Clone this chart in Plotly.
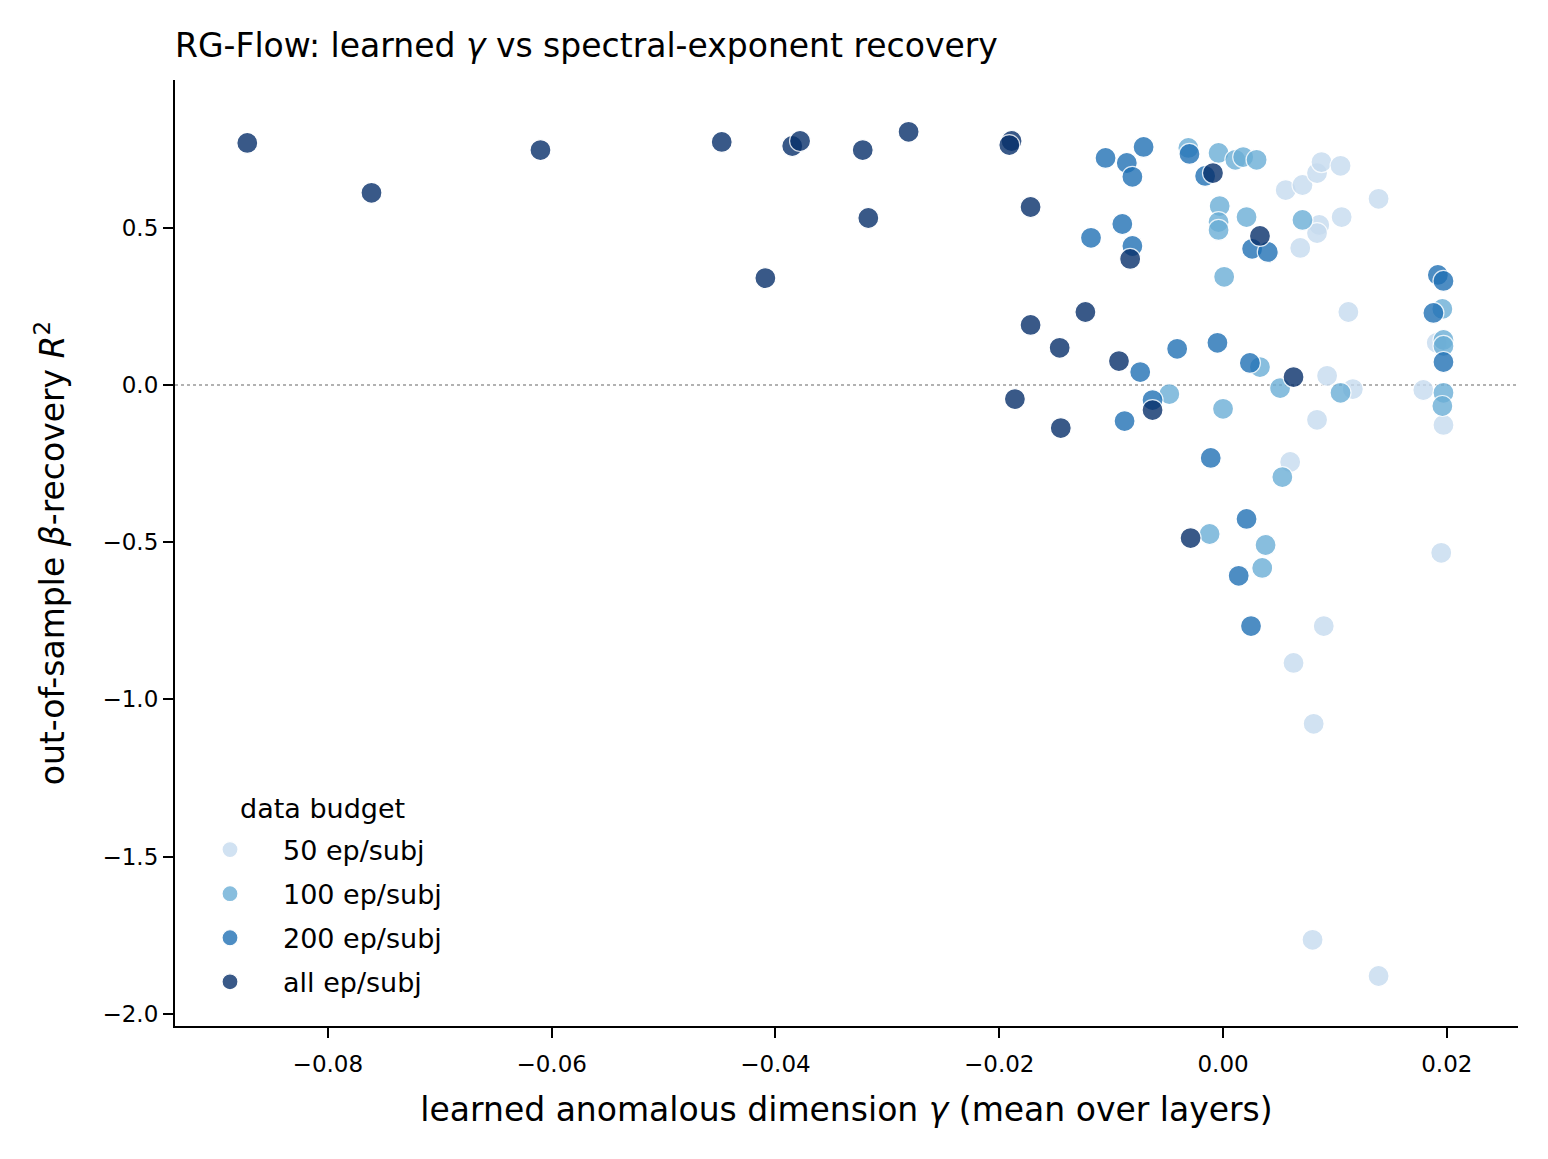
import plotly.graph_objects as go

# ---- data ----
budgets = ["50 ep/subj", "100 ep/subj", "200 ep/subj", "all ep/subj"]
colors = ["#c6dbef", "#6baed6", "#2171b5", "#08306b"]

gamma_50 = [0.0179, 0.0197, 0.0195, 0.0084, 0.0090, 0.0063, 0.0060, 0.0093, 0.0116,
            0.0086, 0.0084, 0.0069, 0.0106, 0.0139, 0.0056, 0.0071, 0.0084, 0.0088,
            0.0105, 0.0112, 0.0081, 0.0080, 0.0139, 0.0191]
r2_50 = [-0.016, -0.127, -0.534, -0.111, -0.767, -0.884, -0.245, 0.029, -0.013,
         0.509, 0.483, 0.436, 0.534, 0.592, 0.620, 0.636, 0.674, 0.709,
         0.697, 0.232, -1.078, -1.765, -1.880, 0.134]

gamma_100 = [-0.0031, -0.0004, 0.0011, 0.0018, 0.0030, -0.0003, -0.0004, -0.0004, 0.0021,
             0.0001, 0.0071, 0.0196, 0.0197, 0.0197, 0.0197, 0.0196, 0.0033, -0.0048,
             0.0000, 0.0051, 0.0053, -0.0012, 0.0038, 0.0035, 0.0105]
r2_100 = [0.754, 0.738, 0.716, 0.725, 0.716, 0.569, 0.518, 0.493, 0.534,
          0.344, 0.525, 0.242, 0.143, 0.124, -0.025, -0.067, 0.057, -0.029,
          -0.076, -0.010, -0.293, -0.474, -0.509, -0.582, -0.025]

gamma_200 = [-0.0105, -0.0086, -0.0071, -0.0081, -0.0030, -0.0016, -0.0118, -0.0090, -0.0081,
             0.0026, 0.0040, 0.0192, 0.0197, 0.0188, 0.0197, -0.0074, -0.0041, -0.0005,
             0.0024, -0.0088, -0.0063, -0.0011, 0.0021, 0.0014, 0.0025]
r2_200 = [0.722, 0.706, 0.757, 0.662, 0.735, 0.665, 0.468, 0.512, 0.442,
          0.433, 0.423, 0.350, 0.331, 0.229, 0.073, 0.041, 0.115, 0.134,
          0.070, -0.115, -0.048, -0.232, -0.426, -0.607, -0.767]

gamma_all = [-0.0872, -0.0761, -0.0610, -0.0448, -0.0409, -0.0385, -0.0378, -0.0322, -0.0317,
             -0.0281, -0.0189, -0.0191, -0.0172, -0.0172, -0.0146, -0.0123, -0.0186, -0.0145,
             -0.0093, -0.0083, -0.0063, -0.0009, -0.0029, 0.0033, 0.0063]
r2_all = [0.770, 0.611, 0.747, 0.773, 0.340, 0.760, 0.776, 0.747, 0.531,
          0.805, 0.776, 0.763, 0.566, 0.191, 0.118, 0.232, -0.045, -0.137,
          0.076, 0.401, -0.080, 0.674, -0.487, 0.474, 0.025]

xs = [gamma_50, gamma_100, gamma_200, gamma_all]
ys = [r2_50, r2_100, r2_200, r2_all]

x_ticks = [-0.08, -0.06, -0.04, -0.02, 0.0, 0.02]
y_ticks = [-2.0, -1.5, -1.0, -0.5, 0.0, 0.5]

FONT = "DejaVu Sans"
W, H = 1548, 1159
L, R, T, B = 175, 30, 80, 133
PW, PH = W - L - R, H - T - B

fig = go.Figure()
for name, col, gx, ry in zip(budgets, colors, xs, ys):
    fig.add_trace(go.Scatter(
        x=gx, y=ry, mode="markers", name=name, legendgroup=name,
        marker=dict(size=21, color=col, opacity=0.8,
                    line=dict(color="white", width=1.2)),
    ))

fig.add_shape(type="line", xref="paper", x0=0, x1=1, yref="y", y0=0, y1=0,
              line=dict(color="#999999", width=1.6, dash="dot"), layer="below")

# legend title placed as text
fig.add_annotation(text="data budget", xref="paper", yref="paper",
                   x=(238 - L) / PW, y=(T + PH - 808) / PH,
                   xanchor="left", yanchor="middle", showarrow=False,
                   font=dict(size=27, family=FONT, color="black"))

fig.update_layout(
    width=W, height=H,
    margin=dict(l=L, r=R, t=T, b=B),
    paper_bgcolor="white", plot_bgcolor="white",
    font=dict(family=FONT, color="black"),
    title=dict(text="RG-Flow: learned <i>γ</i> vs spectral-exponent recovery",
               x=L / W, xanchor="left", xref="container",
               y=1 - 45 / H, yanchor="middle", yref="container",
               font=dict(size=33, family=FONT, color="black")),
    showlegend=True,
    legend=dict(
        font=dict(size=27, family=FONT),
        x=(177 - L) / PW, xanchor="left", y=(T + PH - 1006.5) / PH, yanchor="bottom",
        bgcolor="rgba(0,0,0,0)", borderwidth=0,
        tracegroupgap=6, itemwidth=96,
    ),
    xaxis=dict(
        range=[-0.09366, 0.02636], tickvals=x_ticks, tickformat=".2f",
        showgrid=False, zeroline=False, showline=True, linecolor="black", linewidth=2.2,
        ticks="outside", ticklen=10, tickwidth=2, tickcolor="black",
        tickfont=dict(size=23, family=FONT), ticklabelstandoff=6,
        title=dict(text="learned anomalous dimension <i>γ</i> (mean over layers)",
                   font=dict(size=33, family=FONT), standoff=22),
    ),
    yaxis=dict(
        range=[-2.039, 0.970], tickvals=y_ticks, tickformat=".1f",
        showgrid=False, zeroline=False, showline=True, linecolor="black", linewidth=2.2,
        ticks="outside", ticklen=10, tickwidth=2, tickcolor="black",
        tickfont=dict(size=23, family=FONT),
        title=dict(text="out-of-sample <i>β</i>-recovery <i>R</i><sup>2</sup>",
                   font=dict(size=33, family=FONT), standoff=28),
    ),
)

fig.write_html("out.html")
